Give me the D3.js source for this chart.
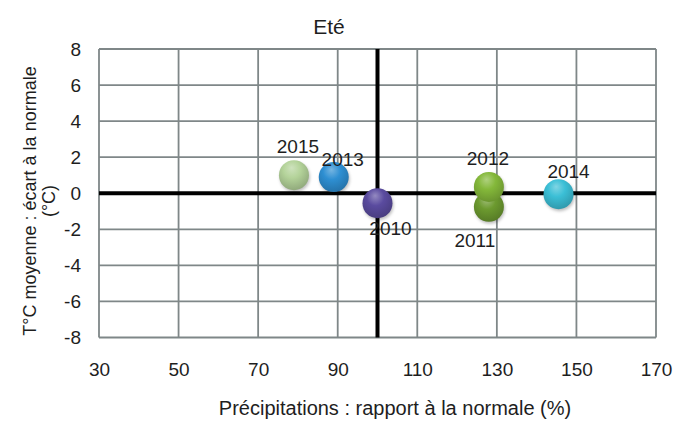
<!DOCTYPE html>
<html>
<head>
<meta charset="utf-8">
<script src="https://cdn.jsdelivr.net/npm/d3@7"></script>
<style>
  html, body { margin: 0; padding: 0; background: #fff; }
  svg text { font-family: "Liberation Sans", Arial, Helvetica, sans-serif; fill: #1e1e1e; }
</style>
</head>
<body>
<svg id="chart" width="685" height="422"></svg>
<script>
// Summer: precipitation ratio vs. temperature anomaly, by year
const years = ["2010", "2011", "2012", "2013", "2014", "2015"];
const precipitation = [100, 128, 128, 89, 145.5, 79];
const tempAnomaly = [-0.55, -0.75, 0.35, 0.9, -0.05, 1.0];
const colors = ["#5a4b9f", "#6c9a2f", "#84b83a", "#2e8fd2", "#3bbfd6", "#b4d39a"];
const xTicks = [30, 50, 70, 90, 110, 130, 150, 170];
const yTicks = [-8, -6, -4, -2, 0, 2, 4, 6, 8];
// label offsets relative to each point (dx, dy to text baseline)
const labelDx = [13, -14, -1, 9, 10, 4];
const labelDy = [32, 40, -22, -11, -16, -22];

const svg = d3.select("#chart");
const m = { left: 99, right: 656, top: 49, bottom: 337.5 };

const x = d3.scaleLinear().domain([30, 170]).range([m.left, m.right]);
const y = d3.scaleLinear().domain([-8, 8]).range([m.bottom, m.top]);

// gradients giving each bubble a shaded, spherical look
const defs = svg.append("defs");
colors.forEach((c, i) => {
  const g = defs.append("radialGradient")
    .attr("id", "ball" + i)
    .attr("cx", "45%").attr("cy", "35%").attr("r", "65%")
    .attr("fx", "42%").attr("fy", "25%");
  const base = d3.color(c);
  g.append("stop").attr("offset", "0%").attr("stop-color", d3.interpolateRgb(c, "#ffffff")(0.35));
  g.append("stop").attr("offset", "45%").attr("stop-color", c);
  g.append("stop").attr("offset", "100%").attr("stop-color", base.darker(0.6));
});
const blur = defs.append("filter").attr("id", "shadow").attr("x", "-50%").attr("y", "-50%").attr("width", "200%").attr("height", "200%");
blur.append("feGaussianBlur").attr("stdDeviation", 1.5);

// gridlines
const grid = svg.append("g");
grid.selectAll("line.v").data(xTicks).join("line")
  .attr("x1", d => x(d)).attr("x2", d => x(d))
  .attr("y1", m.top).attr("y2", m.bottom)
  .attr("stroke", "#7f8788").attr("stroke-width", 1.8);
grid.selectAll("line.h").data(yTicks).join("line")
  .attr("x1", m.left).attr("x2", m.right)
  .attr("y1", d => y(d)).attr("y2", d => y(d))
  .attr("stroke", "#7f8788").attr("stroke-width", 1.8);

// reference axes at 100 % and 0 °C
svg.append("line")
  .attr("x1", m.left).attr("x2", m.right)
  .attr("y1", y(0)).attr("y2", y(0))
  .attr("stroke", "#000").attr("stroke-width", 4);
svg.append("line")
  .attr("x1", x(100)).attr("x2", x(100))
  .attr("y1", m.top).attr("y2", m.bottom)
  .attr("stroke", "#000").attr("stroke-width", 4);

// axes (labels only)
const xAxis = svg.append("g")
  .attr("transform", `translate(0,${m.bottom})`)
  .call(d3.axisBottom(x).tickValues(xTicks).tickSize(0).tickPadding(25).tickFormat(d3.format("d")));
xAxis.select(".domain").remove();
xAxis.selectAll("text").style("font-size", "19px").attr("fill", "#1e1e1e");

const yAxis = svg.append("g")
  .attr("transform", `translate(${m.left},0)`)
  .call(d3.axisLeft(y).tickValues(yTicks).tickSize(0).tickPadding(18).tickFormat(d => d < 0 ? "-" + Math.abs(d) : d));
yAxis.select(".domain").remove();
yAxis.selectAll("text").style("font-size", "19px").attr("fill", "#1e1e1e");

// bubbles
const pts = years.map((yr, i) => ({ yr, i, px: precipitation[i], t: tempAnomaly[i] }));
const bubbles = svg.append("g");
bubbles.selectAll("circle.sh").data(pts).join("circle")
  .attr("cx", d => x(d.px) + 1).attr("cy", d => y(d.t) + 2).attr("r", 15)
  .attr("fill", "rgba(0,0,0,0.25)").attr("filter", "url(#shadow)");
bubbles.selectAll("circle.b").data(pts).join("circle")
  .attr("cx", d => x(d.px)).attr("cy", d => y(d.t)).attr("r", 15)
  .attr("fill", d => `url(#ball${d.i})`);

// year labels
svg.append("g").selectAll("text").data(pts).join("text")
  .attr("x", d => x(d.px) + labelDx[d.i])
  .attr("y", d => y(d.t) + labelDy[d.i])
  .attr("text-anchor", "middle")
  .style("font-size", "19px")
  .text(d => d.yr);

// title and axis titles
svg.append("text").attr("x", 329).attr("y", 34).attr("text-anchor", "middle")
  .style("font-size", "21px").text("Eté");
svg.append("text").attr("x", 395).attr("y", 415).attr("text-anchor", "middle")
  .style("font-size", "20px").text("Précipitations : rapport à la normale (%)");
const yTitle = svg.append("text").attr("transform", "translate(36,201) rotate(-90)")
  .attr("text-anchor", "middle").style("font-size", "18px");
yTitle.append("tspan").attr("x", 0).attr("dy", 0).text("T°C moyenne : écart à la normale");
yTitle.append("tspan").attr("x", 0).attr("dy", 19).text("(°C)");
</script>
</body>
</html>
